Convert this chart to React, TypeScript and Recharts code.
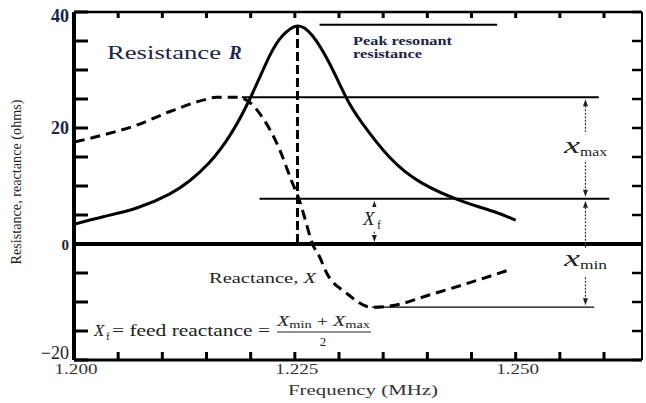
import React from "react";
import { LineChart, Line, XAxis, YAxis, ReferenceLine } from "recharts";

// frequency (MHz) / ohms
const resFreq = [1.2, 1.2033, 1.2071, 1.2108, 1.2131, 1.2153, 1.2176, 1.2199, 1.2221, 1.2236, 1.2253, 1.227, 1.2289, 1.2309, 1.2326, 1.2357, 1.2394, 1.2439, 1.2475, 1.25];
const resOhms = [3.4, 4.7, 6.2, 8.6, 10.9, 14.0, 18.6, 25.0, 32.3, 35.9, 37.6, 35.9, 31.2, 25.0, 20.9, 15.0, 10.5, 7.4, 5.6, 4.1];

const reactFreq = [1.2001, 1.2033, 1.2071, 1.2108, 1.2146, 1.2161, 1.2184, 1.2199, 1.2213, 1.2233, 1.2246, 1.2255, 1.2261, 1.227, 1.2278, 1.2286, 1.2308, 1.2337, 1.2365, 1.2402, 1.2439, 1.2492];
const reactOhms = [17.6, 18.8, 20.5, 22.8, 24.8, 25.3, 25.3, 24.4, 21.9, 16.2, 11.0, 7.6, 4.6, 0, -2.2, -5.0, -8.4, -10.9, -10.5, -8.8, -7.1, -4.5];

const freqTicks = [1.2, 1.205, 1.21, 1.215, 1.22, 1.225, 1.23, 1.235, 1.24, 1.245, 1.25, 1.255, 1.26];
const freqLabels = [1.2, 1.225, 1.25];
const ohmTicks = [-20, -15, -10, -5, 0, 5, 10, 15, 20, 25, 30, 35, 40];
const ohmLabels = [-20, 0, 20, 40];

// annotation levels
const resonantFreq = 1.2253;
const peakLevel = 37.8;
const xMaxLevel = 25.3;
const xFeedLevel = 7.8;
const xMinLevel = -10.9;
const peakSpan = [1.2278, 1.2479];
const xMaxSpan = [1.219, 1.2594];
const xFeedSpan = [1.221, 1.2606];
const xMinSpan = [1.2337, 1.2589];
const sideArrowFreq = 1.2579;
const feedArrowFreq = 1.234;

const resData = resFreq.map((f, i) => ({ f, ohms: resOhms[i] }));
const reactData = reactFreq.map((f, i) => ({ f, ohms: reactOhms[i] }));

const SERIF = '"Liberation Serif", "DejaVu Serif", serif';
const NAVY = "#1d2447";

function YLabel(props: any) {
  const { x, y, payload } = props;
  const v = payload.value;
  const bold = v >= 0;
  const s = v < 0 ? "\u221220" : String(v);
  let ty = y + 6;
  if (v === 40) ty = 22;
  if (v < 0) ty = y - 1;
  return (
    <text
      x={x - 5}
      y={ty}
      textAnchor="end"
      fontFamily={SERIF}
      fontSize={v === 0 ? 15 : 18}
      fontWeight={bold ? 700 : 400}
      fill={v > 0 ? NAVY : "#222"}
    >
      {s}
    </text>
  );
}

function XLabel(props: any) {
  const { x, y, payload } = props;
  return (
    <text x={x + 2} y={y + 14} textAnchor="middle" fontFamily={SERIF} fontSize={15} fill="#333" textLength={43} lengthAdjust="spacingAndGlyphs">
      {payload.value.toFixed(3)}
    </text>
  );
}

function Arrow(props: any) {
  const { x1, y1, y2 } = props;
  const top = Math.min(y1, y2) + 2;
  const bot = Math.max(y1, y2) - 2;
  return (
    <g>
      <line x1={x1} x2={x1} y1={top + 3} y2={bot - 3} stroke="#333" strokeWidth={1.2} strokeDasharray="2 1.5" />
      <path d={`M${x1 - 2.5},${top + 7} L${x1},${top} L${x1 + 2.5},${top + 7} Z`} fill="#222" />
      <path d={`M${x1 - 2.5},${bot - 7} L${x1},${bot} L${x1 + 2.5},${bot - 7} Z`} fill="#222" />
    </g>
  );
}

const noLabel = () => "";

export default function App() {
  return (
    <div style={{ position: "absolute", left: 0, top: 0, width: 646, height: 403, background: "#fff" }}>
      <LineChart width={646} height={403} margin={{ top: 12, right: 4, bottom: 0, left: 0 }}>
        <XAxis
          xAxisId="b"
          type="number"
          dataKey="f"
          domain={[1.2, 1.2643]}
          ticks={freqLabels}
          height={43}
          tickLine={false}
          tickSize={0}
          tickMargin={0}
          axisLine={{ stroke: "#000", strokeWidth: 3 }}
          tick={<XLabel />}
          allowDataOverflow
        />
        <XAxis
          xAxisId="bm"
          type="number"
          dataKey="f"
          domain={[1.2, 1.2643]}
          ticks={freqTicks}
          mirror
          height={10}
          tickSize={8}
          tickLine={{ stroke: "#000", strokeWidth: 3 }}
          axisLine={false}
          tickFormatter={noLabel}
          allowDataOverflow
        />
        <XAxis
          xAxisId="t"
          orientation="top"
          type="number"
          dataKey="f"
          domain={[1.2, 1.2643]}
          ticks={freqTicks}
          mirror
          height={10}
          tickSize={6}
          tickLine={{ stroke: "#000", strokeWidth: 3 }}
          axisLine={{ stroke: "#000", strokeWidth: 2.5 }}
          tickFormatter={noLabel}
          allowDataOverflow
        />
        <YAxis
          yAxisId="l"
          type="number"
          domain={[-20, 40]}
          ticks={ohmLabels}
          width={74}
          tickLine={false}
          tickSize={0}
          tickMargin={0}
          axisLine={{ stroke: "#000", strokeWidth: 4 }}
          tick={<YLabel />}
          allowDataOverflow
        />
        <YAxis
          yAxisId="lm"
          type="number"
          domain={[-20, 40]}
          ticks={ohmTicks}
          mirror
          width={10}
          tickSize={14}
          tickLine={{ stroke: "#000", strokeWidth: 3 }}
          axisLine={false}
          tickFormatter={noLabel}
          allowDataOverflow
        />
        <YAxis
          yAxisId="r"
          orientation="right"
          type="number"
          domain={[-20, 40]}
          ticks={ohmTicks}
          mirror
          width={10}
          tickSize={10}
          tickLine={{ stroke: "#000", strokeWidth: 2.5 }}
          axisLine={{ stroke: "#000", strokeWidth: 2 }}
          tickFormatter={noLabel}
          allowDataOverflow
        />

        <ReferenceLine xAxisId="b" yAxisId="l" y={0} stroke="#000" strokeWidth={4} />
        <ReferenceLine xAxisId="b" yAxisId="l" segment={[{ x: peakSpan[0], y: peakLevel }, { x: peakSpan[1], y: peakLevel }]} stroke="#000" strokeWidth={2} />
        <ReferenceLine xAxisId="b" yAxisId="l" segment={[{ x: xMaxSpan[0], y: xMaxLevel }, { x: xMaxSpan[1], y: xMaxLevel }]} stroke="#000" strokeWidth={2} />
        <ReferenceLine xAxisId="b" yAxisId="l" segment={[{ x: xFeedSpan[0], y: xFeedLevel }, { x: xFeedSpan[1], y: xFeedLevel }]} stroke="#000" strokeWidth={2} />
        <ReferenceLine xAxisId="b" yAxisId="l" segment={[{ x: xMinSpan[0], y: xMinLevel }, { x: xMinSpan[1], y: xMinLevel }]} stroke="#000" strokeWidth={1.2} />
        <ReferenceLine xAxisId="b" yAxisId="l" segment={[{ x: resonantFreq, y: 37.6 }, { x: resonantFreq, y: 0 }]} stroke="#000" strokeWidth={3} strokeDasharray="9 4" />
        <ReferenceLine xAxisId="b" yAxisId="l" segment={[{ x: sideArrowFreq, y: xMaxLevel }, { x: sideArrowFreq, y: xFeedLevel }]} shape={Arrow} />
        <ReferenceLine xAxisId="b" yAxisId="l" segment={[{ x: sideArrowFreq, y: xFeedLevel }, { x: sideArrowFreq, y: xMinLevel }]} shape={Arrow} />
        <ReferenceLine xAxisId="b" yAxisId="l" segment={[{ x: feedArrowFreq, y: xFeedLevel }, { x: feedArrowFreq, y: 0 }]} shape={Arrow} />

        <Line xAxisId="b" yAxisId="l" data={resData} dataKey="ohms" type="natural" stroke="#000" strokeWidth={3} dot={false} isAnimationActive={false} />
        <Line xAxisId="b" yAxisId="l" data={reactData} dataKey="ohms" type="monotone" stroke="#000" strokeWidth={3} strokeDasharray="10 6" dot={false} isAnimationActive={false} />
      </LineChart>

      <svg width={646} height={403} style={{ position: "absolute", left: 0, top: 0, pointerEvents: "none" }} fontFamily={SERIF}>
        <text x={107} y={59} fontSize={19} fill={NAVY} textLength={114} lengthAdjust="spacingAndGlyphs">Resistance</text>
        <text x={229} y={59} fontSize={19} fill={NAVY} fontWeight={700} fontStyle="italic">R</text>

        <text x={353} y={45} fontSize={12} fontWeight={700} fill={NAVY} textLength={99} lengthAdjust="spacingAndGlyphs">Peak resonant</text>
        <text x={353} y={58} fontSize={12} fontWeight={700} fill={NAVY} textLength={69} lengthAdjust="spacingAndGlyphs">resistance</text>

        <text x={209} y={283} fontSize={14} fill="#222" textLength={107} lengthAdjust="spacingAndGlyphs">
          Reactance, <tspan fontStyle="italic">X</tspan>
        </text>

        <text x={94} y={336} fontSize={17} fill="#222" fontStyle="italic">X</text>
        <text x={106} y={340} fontSize={11} fill="#222">f</text>
        <text x={112} y={336} fontSize={16} fill="#222" textLength={158} lengthAdjust="spacingAndGlyphs">= feed reactance =</text>

        <text x={277} y={326} fontSize={14} fill="#222" textLength={93} lengthAdjust="spacingAndGlyphs">
          <tspan fontStyle="italic">X</tspan>
          <tspan fontSize={10} dy={2}>min</tspan>
          <tspan dy={-2}> + </tspan>
          <tspan fontStyle="italic">X</tspan>
          <tspan fontSize={10} dy={2}>max</tspan>
        </text>
        <line x1={277} x2={371} y1={332} y2={332} stroke="#222" strokeWidth={1} />
        <text x={323} y={346} fontSize={13} fill="#222" textAnchor="middle">2</text>

        <rect x={561} y={132} width={50} height={29} fill="#fff" />
        <text x={564} y={153} fontSize={24} fontStyle="italic" fill="#222" textLength={16} lengthAdjust="spacingAndGlyphs">x</text>
        <text x={580} y={156} fontSize={12} fill="#222" textLength={27} lengthAdjust="spacingAndGlyphs">max</text>

        <rect x={561} y={248} width={50} height={29} fill="#fff" />
        <text x={564} y={266} fontSize={24} fontStyle="italic" fill="#222" textLength={16} lengthAdjust="spacingAndGlyphs">x</text>
        <text x={580} y={269} fontSize={12} fill="#222" textLength={27} lengthAdjust="spacingAndGlyphs">min</text>

        <rect x={362} y={207} width={26} height={23} fill="#fff" />
        <text x={363} y={225} fontSize={19} fontStyle="italic" fill="#222">X</text>
        <text x={377} y={229} fontSize={12} fill="#222">f</text>

        <text x={288} y={395} fontSize={15} fill="#333" textLength={150} lengthAdjust="spacingAndGlyphs">Frequency (MHz)</text>
        <text transform="translate(21,182) rotate(-90)" textAnchor="middle" fontSize={14} fill="#222" textLength={165} lengthAdjust="spacingAndGlyphs">
          Resistance, reactance (ohms)
        </text>
      </svg>
    </div>
  );
}
